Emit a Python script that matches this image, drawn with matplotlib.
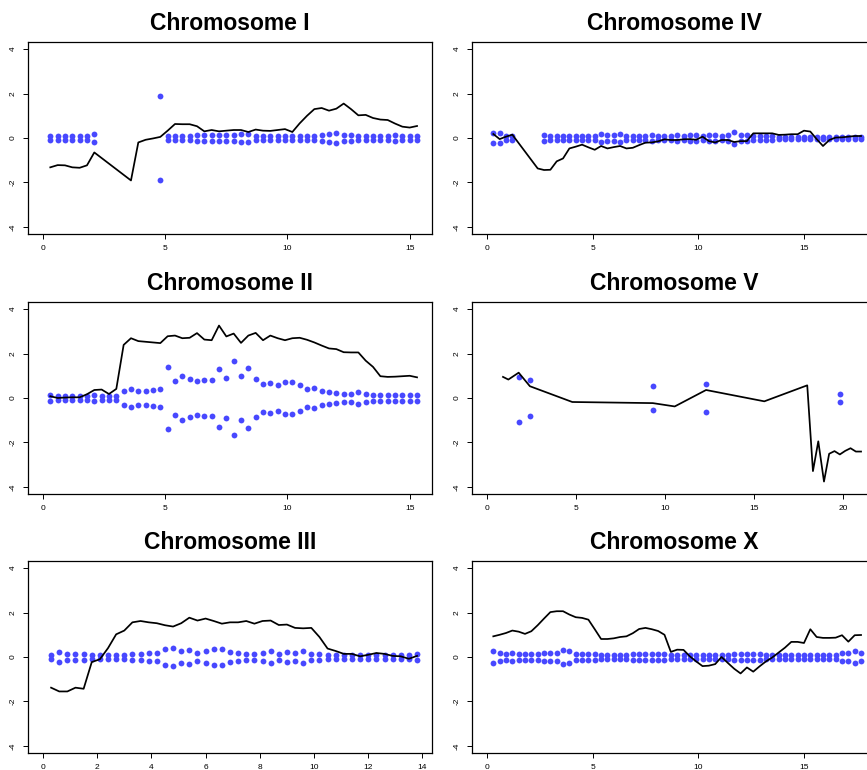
import matplotlib
matplotlib.use("Agg")
import matplotlib.pyplot as plt

plt.rcParams["font.family"] = ["Liberation Sans", "DejaVu Sans"]

# ---- data (positions in Mb, values log-ratio) ----
chr1_line_x = [0.3, 0.6, 0.9, 1.2, 1.5, 1.8, 2.1, 3.6, 3.9, 4.2, 4.5, 4.8,
               5.1, 5.4, 5.7, 6.0, 6.3, 6.6, 6.9, 7.2, 7.5, 7.8, 8.1, 8.4, 8.7, 9.0,
               9.3, 9.6, 9.9, 10.2, 10.5, 10.8, 11.1, 11.4, 11.7, 12.0, 12.3, 12.6,
               12.9, 13.2, 13.5, 13.8, 14.1, 14.4, 14.7, 15.0, 15.3]
chr1_line_y = [-1.32, -1.22, -1.23, -1.32, -1.34, -1.23, -0.65, -1.91, -0.2, -0.08, -0.02, 0.05,
               0.33, 0.63, 0.62, 0.62, 0.53, 0.3, 0.36, 0.3, 0.33, 0.36, 0.36, 0.27, 0.38, 0.33,
               0.32, 0.36, 0.4, 0.27, 0.66, 1.0, 1.3, 1.35, 1.23, 1.32, 1.55, 1.3,
               1.02, 1.04, 0.9, 0.83, 0.81, 0.65, 0.51, 0.47, 0.54]
chr1_pt_x = [0.3, 0.6, 0.9, 1.2, 1.5, 1.8, 2.1, 4.8,
             5.1, 5.4, 5.7, 6.0, 6.3, 6.6, 6.9, 7.2, 7.5, 7.8, 8.1, 8.4, 8.7, 9.0,
             9.3, 9.6, 9.9, 10.2, 10.5, 10.8, 11.1, 11.4, 11.7, 12.0, 12.3, 12.6,
             12.9, 13.2, 13.5, 13.8, 14.1, 14.4, 14.7, 15.0, 15.3]
chr1_pt_v = [0.1, 0.1, 0.1, 0.1, 0.1, 0.1, 0.2, 1.9,
             0.1, 0.1, 0.1, 0.1, 0.13, 0.15, 0.13, 0.12, 0.13, 0.15, 0.17, 0.17, 0.1, 0.1,
             0.1, 0.1, 0.1, 0.1, 0.1, 0.1, 0.1, 0.13, 0.18, 0.22, 0.15, 0.12,
             0.1, 0.1, 0.1, 0.1, 0.1, 0.12, 0.1, 0.1, 0.1]

chr2_x = [0.3, 0.6, 0.9, 1.2, 1.5, 1.8, 2.1, 2.4, 2.7, 3.0,
          3.3, 3.6, 3.9, 4.2, 4.5, 4.8, 5.1, 5.4, 5.7, 6.0,
          6.3, 6.6, 6.9, 7.2, 7.5, 7.8, 8.1, 8.4, 8.7, 9.0,
          9.3, 9.6, 9.9, 10.2, 10.5, 10.8, 11.1, 11.4, 11.7, 12.0,
          12.3, 12.6, 12.9, 13.2, 13.5, 13.8, 14.1, 14.4, 14.7, 15.0, 15.3]
chr2_line_y = [0.08, 0.0, 0.02, 0.03, 0.03, 0.17, 0.36, 0.38, 0.18, 0.41,
               2.39, 2.69, 2.56, 2.53, 2.5, 2.47, 2.78, 2.81, 2.69, 2.71,
               2.92, 2.63, 2.6, 3.26, 2.77, 2.9, 2.48, 2.81, 2.93, 2.6,
               2.81, 2.69, 2.6, 2.69, 2.71, 2.62, 2.5, 2.36, 2.23, 2.2,
               2.06, 2.05, 2.05, 1.68, 1.4, 0.98, 0.95, 0.96, 0.98, 1.0, 0.93]
chr2_pt_v = [0.12, 0.07, 0.07, 0.07, 0.07, 0.1, 0.13, 0.1, 0.1, 0.1,
             0.3, 0.4, 0.3, 0.3, 0.35, 0.42, 1.39, 0.76, 0.99, 0.84,
             0.78, 0.83, 0.8, 1.31, 0.92, 1.68, 0.98, 1.37, 0.87, 0.62,
             0.67, 0.6, 0.74, 0.7, 0.57, 0.42, 0.45, 0.33, 0.27, 0.22,
             0.18, 0.18, 0.27, 0.18, 0.12, 0.12, 0.12, 0.12, 0.12, 0.12, 0.12]

chr3_x = [0.3, 0.6, 0.9, 1.2, 1.5, 1.8, 2.1, 2.4, 2.7, 3.0,
          3.3, 3.6, 3.9, 4.2, 4.5, 4.8, 5.1, 5.4, 5.7, 6.0,
          6.3, 6.6, 6.9, 7.2, 7.5, 7.8, 8.1, 8.4, 8.7, 9.0,
          9.3, 9.6, 9.9, 10.2, 10.5, 10.8, 11.1, 11.4, 11.7, 12.0,
          12.3, 12.6, 12.9, 13.2, 13.5, 13.8]
chr3_line_y = [-1.38, -1.55, -1.55, -1.38, -1.43, -0.23, -0.1, 0.4, 1.02, 1.19,
               1.56, 1.62, 1.56, 1.52, 1.43, 1.37, 1.52, 1.77, 1.64, 1.73,
               1.62, 1.5, 1.56, 1.56, 1.62, 1.5, 1.62, 1.64, 1.44, 1.46,
               1.31, 1.29, 1.31, 0.9, 0.38, 0.27, 0.14, 0.14, 0.03, 0.1,
               0.18, 0.14, 0.05, 0.03, -0.08, 0.05]
chr3_pt_v = [0.1, 0.22, 0.15, 0.13, 0.13, 0.07, 0.07, 0.1, 0.1, 0.1,
             0.13, 0.13, 0.2, 0.17, 0.36, 0.39, 0.28, 0.3, 0.18, 0.25,
             0.38, 0.38, 0.22, 0.17, 0.15, 0.15, 0.18, 0.25, 0.15, 0.22,
             0.17, 0.25, 0.15, 0.13, 0.1, 0.08, 0.08, 0.08, 0.08, 0.08,
             0.08, 0.08, 0.08, 0.08, 0.1, 0.12]

chr4_line_x = [0.3, 0.6, 0.9, 1.2, 2.4,
               2.7, 3.0, 3.3, 3.6, 3.9, 4.2, 4.5, 4.8, 5.1, 5.4,
               5.7, 6.0, 6.3, 6.6, 6.9, 7.2, 7.5, 7.8, 8.1, 8.4,
               8.7, 9.0, 9.3, 9.6, 9.9, 10.2, 10.5, 10.8, 11.1, 11.4,
               11.7, 12.0, 12.3, 12.6, 12.9, 13.2, 13.5, 13.8, 14.1, 14.4,
               14.7, 15.0, 15.3, 15.6, 15.9, 16.2, 16.5, 16.8, 17.1, 17.4, 17.7]
chr4_line_y = [0.18, -0.05, 0.06, 0.15, -1.37,
               -1.44, -1.43, -1.05, -0.92, -0.47, -0.39, -0.3, -0.42, -0.53, -0.36,
               -0.47, -0.41, -0.36, -0.47, -0.44, -0.32, -0.21, -0.2, -0.15, -0.06,
               -0.09, -0.09, -0.06, -0.05, -0.08, 0.06, -0.14, -0.2, -0.09, -0.09,
               -0.18, -0.14, -0.14, 0.21, 0.21, 0.21, 0.21, 0.14, 0.15, 0.17,
               0.17, 0.33, 0.29, -0.05, -0.36, -0.09, 0.02, 0.03, 0.06, 0.09, 0.09]
chr4_pt_x = [0.3, 0.6, 0.9, 1.2,
             2.7, 3.0, 3.3, 3.6, 3.9, 4.2, 4.5, 4.8, 5.1, 5.4,
             5.7, 6.0, 6.3, 6.6, 6.9, 7.2, 7.5, 7.8, 8.1, 8.4,
             8.7, 9.0, 9.3, 9.6, 9.9, 10.2, 10.5, 10.8, 11.1, 11.4,
             11.7, 12.0, 12.3, 12.6, 12.9, 13.2, 13.5, 13.8, 14.1, 14.4,
             14.7, 15.0, 15.3, 15.6, 15.9, 16.2, 16.5, 16.8, 17.1, 17.4, 17.7]
chr4_pt_v = [0.21, 0.22, 0.08, 0.08,
             0.13, 0.1, 0.1, 0.1, 0.1, 0.1, 0.1, 0.1, 0.1, 0.17,
             0.12, 0.12, 0.17, 0.1, 0.1, 0.1, 0.1, 0.12, 0.1, 0.1,
             0.1, 0.12, 0.1, 0.13, 0.12, 0.1, 0.12, 0.13, 0.1, 0.12,
             0.27, 0.12, 0.12, 0.08, 0.07, 0.07, 0.07, 0.06, 0.06, 0.06,
             0.06, 0.06, 0.06, 0.06, 0.06, 0.06, 0.06, 0.06, 0.06, 0.06, 0.06]

chr5_line_x = [0.9, 1.2, 1.78, 2.41, 4.79, 9.31, 10.54, 12.3, 15.57, 17.98,
               18.3, 18.6, 18.92, 19.21, 19.51, 19.81, 20.11, 20.41, 20.71, 21.0]
chr5_line_y = [0.95, 0.83, 1.14, 0.53, -0.18, -0.23, -0.38, 0.36, -0.15, 0.57,
               -3.29, -1.95, -3.76, -2.51, -2.39, -2.54, -2.38, -2.26, -2.41, -2.41]
chr5_pt_x = [1.78, 2.39, 9.31, 12.3, 19.81]
chr5_pt_hi = [0.93, 0.83, 0.54, 0.62, 0.18]
chr5_pt_lo = [-1.07, -0.83, -0.56, -0.63, -0.18]

chrx_x = [0.3, 0.6, 0.9, 1.2, 1.5, 1.8, 2.1, 2.4, 2.7, 3.0,
          3.3, 3.6, 3.9, 4.2, 4.5, 4.8, 5.1, 5.4, 5.7, 6.0,
          6.3, 6.6, 6.9, 7.2, 7.5, 7.8, 8.1, 8.4, 8.7, 9.0,
          9.3, 9.6, 9.9, 10.2, 10.5, 10.8, 11.1, 11.4, 11.7, 12.0,
          12.3, 12.6, 12.9, 13.2, 13.5, 13.8, 14.1, 14.4, 14.7, 15.0,
          15.3, 15.6, 15.9, 16.2, 16.5, 16.8, 17.1, 17.4, 17.7]
chrx_line_y = [0.93, 1.0, 1.08, 1.19, 1.14, 1.04, 1.16, 1.43, 1.73, 2.02,
               2.06, 2.06, 1.91, 1.79, 1.76, 1.68, 1.25, 0.81, 0.81, 0.84,
               0.9, 0.93, 1.07, 1.26, 1.31, 1.25, 1.17, 1.0, 0.23, 0.33,
               0.32, 0.03, -0.2, -0.41, -0.39, -0.32, 0.0, -0.27, -0.53, -0.74,
               -0.47, -0.66, -0.42, -0.2, -0.02, 0.2, 0.42, 0.68, 0.68, 0.63,
               1.25, 0.9, 0.86, 0.86, 0.87, 0.98, 0.69, 0.98, 0.99]
chrx_pt_v = [0.25, 0.2, 0.15, 0.2, 0.15, 0.15, 0.15, 0.15, 0.2, 0.2,
             0.2, 0.33, 0.27, 0.15, 0.15, 0.15, 0.12, 0.1, 0.1, 0.1,
             0.1, 0.1, 0.12, 0.12, 0.12, 0.12, 0.12, 0.12, 0.1, 0.1,
             0.1, 0.1, 0.1, 0.1, 0.1, 0.1, 0.1, 0.1, 0.12, 0.12,
             0.12, 0.12, 0.12, 0.08, 0.08, 0.08, 0.08, 0.08, 0.08, 0.08,
             0.08, 0.08, 0.08, 0.08, 0.1, 0.2, 0.2, 0.25, 0.2]

titles = ["Chromosome I", "Chromosome IV", "Chromosome II",
          "Chromosome V", "Chromosome III", "Chromosome X"]
xtick_step = [5, 5, 5, 5, 2, 5]
yticks = [-4, -2, 0, 2, 4]

# (line x, line y, point x, upper, lower)
panels = [
    (chr1_line_x, chr1_line_y, chr1_pt_x, chr1_pt_v, [-v for v in chr1_pt_v]),
    (chr4_line_x, chr4_line_y, chr4_pt_x, chr4_pt_v, [-v for v in chr4_pt_v]),
    (chr2_x, chr2_line_y, chr2_x, chr2_pt_v, [-v for v in chr2_pt_v]),
    (chr5_line_x, chr5_line_y, chr5_pt_x, chr5_pt_hi, chr5_pt_lo),
    (chr3_x, chr3_line_y, chr3_x, chr3_pt_v, [-v for v in chr3_pt_v]),
    (chrx_x, chrx_line_y, chrx_x, chrx_pt_v, [-v for v in chrx_pt_v]),
]

W, H = 867, 770
fig = plt.figure(figsize=(W / 100, H / 100), dpi=100)
BLUE = "#4848ff"
col_left = [28, 472]
row_top = [42, 302, 561]
box_w, box_h = 404, 192

for i, (lx, ly, px, hi, lo) in enumerate(panels):
    r, c = divmod(i, 2)
    ax = fig.add_axes([col_left[c] / W, 1 - (row_top[r] + box_h) / H, box_w / W, box_h / H])
    ax.plot(px, hi, "o", color=BLUE, ms=4.2, mew=0, zorder=2)
    ax.plot(px, lo, "o", color=BLUE, ms=4.2, mew=0, zorder=2)
    ax.plot(lx, ly, color="black", lw=1.25, zorder=3)
    xmax = max(lx)
    ax.set_xlim(-0.04 * xmax, 1.04 * xmax)
    ax.set_ylim(-4.32, 4.32)
    step = xtick_step[i]
    ax.set_xticks(list(range(0, int(1.04 * xmax) + 1, step)))
    ax.set_yticks(yticks)
    ax.set_yticklabels([str(t) for t in yticks], rotation=90, va="center")
    ax.tick_params(direction="out", length=3.6, width=0.7, labelsize=6, pad=4.5)
    for s in ax.spines.values():
        s.set_linewidth(0.9)
    ax.set_title(titles[i], fontsize=16.5, fontweight="bold", pad=8.4)

fig.savefig("out.png", dpi=100)
